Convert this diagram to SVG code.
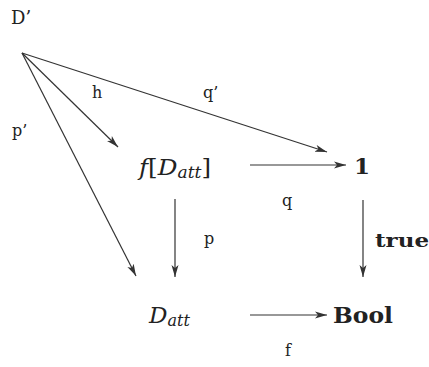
<svg xmlns="http://www.w3.org/2000/svg" width="429" height="367" viewBox="0 0 429 367">
<defs>
<marker id="ah" viewBox="0 0 12 8" refX="12" refY="4" markerWidth="12" markerHeight="8" markerUnits="userSpaceOnUse" orient="auto">
<path d="M0,0.5 L12,4 L0,7.5 L3,4 Z" fill="#333"/>
</marker>
<style>
text{font-family:"DejaVu Serif","Liberation Serif",serif;fill:#222}
.lbl{font-size:16px}
.obj{font-size:23px}
.b{font-weight:bold}
.it{font-style:italic}
.sub{font-size:16px;font-style:italic}
.c line{stroke:#333;stroke-width:1.2;marker-end:url(#ah)}
</style>
</defs>
<rect width="429" height="367" fill="#fff"/>
<g id="n-Dprime"><text x="11" y="24" style="font-size:18px">D’</text></g>
<g id="n-fDatt"><text x="139" y="175" class="obj" textLength="72" lengthAdjust="spacingAndGlyphs"><tspan class="it">f</tspan><tspan>[</tspan><tspan class="it">D</tspan><tspan class="sub" dy="3">att</tspan><tspan dy="-3">]</tspan></text></g>
<g id="n-one"><text x="354" y="174" class="obj b">1</text></g>
<g id="n-Datt"><text x="149" y="323" class="obj"><tspan class="it">D</tspan><tspan class="sub" dy="3">att</tspan></text></g>
<g id="n-Bool"><text x="333" y="323" class="b" style="font-size:22px" textLength="60" lengthAdjust="spacingAndGlyphs">Bool</text></g>
<g class="c" id="connectors">
<line x1="22" y1="53" x2="327" y2="152"/>
<line x1="22" y1="53" x2="118" y2="147"/>
<line x1="22" y1="53" x2="136" y2="276"/>
<line x1="250" y1="165" x2="346" y2="165"/>
<line x1="175" y1="199" x2="175" y2="277"/>
<line x1="363" y1="200" x2="363" y2="277"/>
<line x1="250" y1="315" x2="327" y2="315"/>
</g>
<g id="labels">
<text x="92" y="98" class="lbl">h</text>
<text x="203" y="98" class="lbl">q’</text>
<text x="12" y="136" class="lbl">p’</text>
<text x="282" y="206" class="lbl">q</text>
<text x="204" y="244" class="lbl">p</text>
<text x="375" y="247" class="b" style="font-size:19px" textLength="54" lengthAdjust="spacingAndGlyphs">true</text>
<text x="285" y="356" class="lbl">f</text>
</g>
</svg>
